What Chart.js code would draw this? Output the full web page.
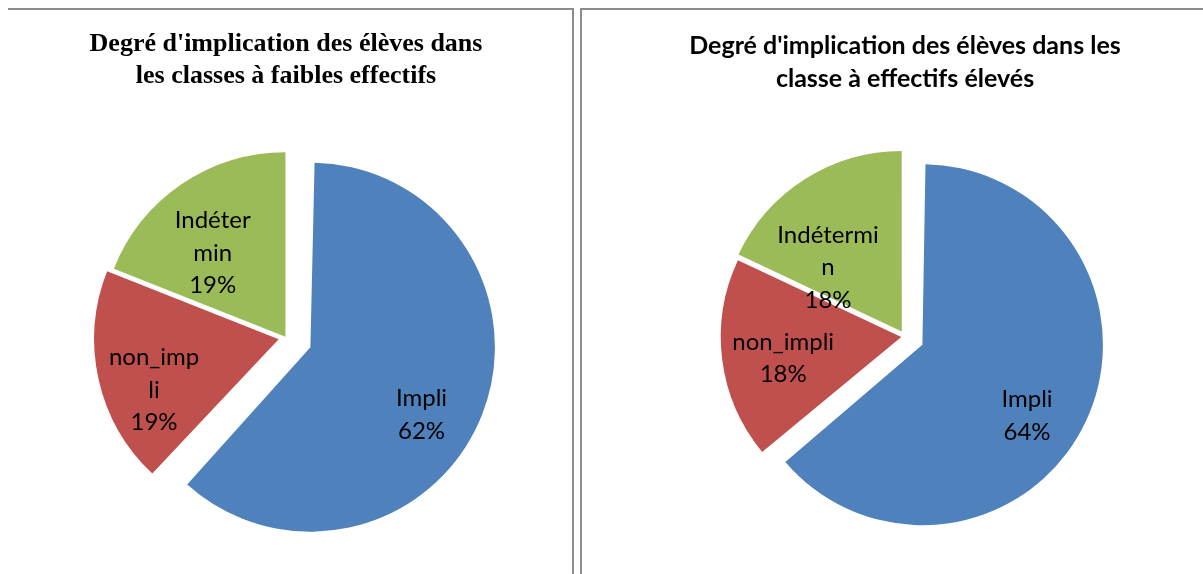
<!DOCTYPE html>
<html>
<head>
<meta charset="utf-8">
<script src="https://cdn.jsdelivr.net/npm/chart.js@4.4.1/dist/chart.umd.min.js"></script>
<style>
  body { margin: 0; background: #fff; width: 1203px; height: 574px; overflow: hidden; position: relative; }
  .frame { position: absolute; box-sizing: border-box; }
  #leftFrame { left: 8px; top: 8px; width: 566px; height: 566px; border-top: 2px solid #8c8c8c; border-right: 2px solid #8c8c8c; }
  #rightFrame { left: 580px; top: 8px; width: 623px; height: 566px; border-top: 2px solid #8c8c8c; border-left: 2px solid #8c8c8c; }
  .box { position: absolute; }
  #leftBox { left: 0; top: 10px; width: 572px; height: 564px; }
  #rightBox { left: 582px; top: 10px; width: 621px; height: 564px; }
</style>
</head>
<body>
<div class="frame" id="leftFrame"></div>
<div class="frame" id="rightFrame"></div>
<div class="box" id="leftBox"><canvas id="smallClasses"></canvas></div>
<div class="box" id="rightBox"><canvas id="largeClasses"></canvas></div>

<script>
// categories, in the order Excel draws them (clockwise from 12 o'clock)
const categories = ['Impli', 'non_impli', 'Indétermin'];
const sliceColors = ['#4F81BD', '#C0504D', '#9BBB59'];

// percentages
const smallClassValues = [62, 19, 19];
const largeClassValues = [64, 18, 18];

// category names as Excel wrapped them inside the slices
const smallClassLabelLines = [['Impli'], ['non_imp', 'li'], ['Indéter', 'min']];
const largeClassLabelLines = [['Impli'], ['non_impli'], ['Indétermi', 'n']];

const smallClassTitle = ["Degré d'implication des élèves dans", 'les classes à faibles effectifs'];
const largeClassTitle = ["Degré d'implication des élèves dans les", 'classe à effectifs élevés'];

// Chart.js grows an exploded slice's radius as well as moving it;
// Excel only moves it, so take the extra radius back before drawing
const keepRadius = {
  id: 'keepRadius',
  beforeDatasetsDraw(chart) {
    const R = chart.options.radius;
    chart.getDatasetMeta(0).data.forEach(arc => {
      const off = (arc.options.offset || 0) / 4;
      const fix = 1 - Math.sin(Math.min(Math.PI, arc.circumference || 0));
      arc.outerRadius = R - off * fix;
    });
  }
};

// draws "name / xx%" inside each slice, following the slice's explode offset
const sliceLabels = {
  id: 'sliceLabels',
  afterDatasetsDraw(chart, args, opts) {
    const ctx = chart.ctx;
    const R = chart.options.radius;
    const meta = chart.getDatasetMeta(0);
    const values = chart.data.datasets[0].data;
    const total = values.reduce((a, b) => a + b, 0);
    ctx.save();
    ctx.font = opts.font;
    ctx.fillStyle = '#000';
    ctx.textAlign = 'center';
    ctx.textBaseline = 'middle';
    meta.data.forEach((arc, i) => {
      const mid = (arc.startAngle + arc.endAngle) / 2;
      const shift = (arc.options.offset || 0) / 4;
      const cx = arc.x + Math.cos(mid) * shift;
      const cy = arc.y + Math.sin(mid) * shift;
      const a = mid + opts.turn[i] * Math.PI / 180;
      const r = R * opts.radius[i];
      const lx = cx + Math.cos(a) * r;
      const ly = cy + Math.sin(a) * r;
      const lines = chart.data.labelLines[i].concat(Math.round(values[i] / total * 100) + '%');
      const y0 = ly - (lines.length - 1) * opts.lineHeight / 2;
      lines.forEach((t, k) => ctx.fillText(t, lx, y0 + k * opts.lineHeight));
    });
    ctx.restore();
  }
};

function makePie(id, values, labelLines, title, cfg) {
  return new Chart(document.getElementById(id), {
    type: 'pie',
    data: {
      labels: categories,
      labelLines: labelLines,
      datasets: [{
        data: values,
        backgroundColor: sliceColors,
        borderWidth: 0,
        offset: cfg.offset
      }]
    },
    options: {
      responsive: true,
      maintainAspectRatio: false,
      animation: false,
      events: [],
      radius: cfg.radius,
      layout: { padding: cfg.padding },
      plugins: {
        legend: { display: false },
        tooltip: { enabled: false },
        title: {
          display: true,
          text: title,
          color: '#000',
          font: cfg.titleFont,
          padding: cfg.titlePadding
        },
        sliceLabels: {
          font: '24px Lato',
          lineHeight: 32.5,
          radius: cfg.labelRadius,
          turn: cfg.labelTurn
        }
      }
    },
    plugins: [keepRadius, sliceLabels]
  });
}

makePie('smallClasses', smallClassValues, smallClassLabelLines, smallClassTitle, {
  radius: 184.5,
  offset: [105, 30, 4],
  padding: { top: 0, bottom: 1, left: 0, right: 0 },
  titleFont: { family: '"Liberation Serif"', size: 26, weight: 'bold', lineHeight: '32px' },
  titlePadding: { top: 18, bottom: 10 },
  labelRadius: [0.705, 0.73, 0.60],
  labelTurn: [9.7, -9.7, -6.9]
});

makePie('largeClasses', largeClassValues, largeClassLabelLines, largeClassTitle, {
  radius: 180.5,
  offset: [77, 15, 24],
  padding: { top: 0, bottom: 6.5, left: 25, right: 0 },
  titleFont: { family: 'Lato', size: 25, weight: 'bold', lineHeight: '33px' },
  titlePadding: { top: 19.5, bottom: 10 },
  labelRadius: [0.70, 0.665, 0.54],
  labelTurn: [8.9, -3.1, -16.8]
});
</script>
</body>
</html>
